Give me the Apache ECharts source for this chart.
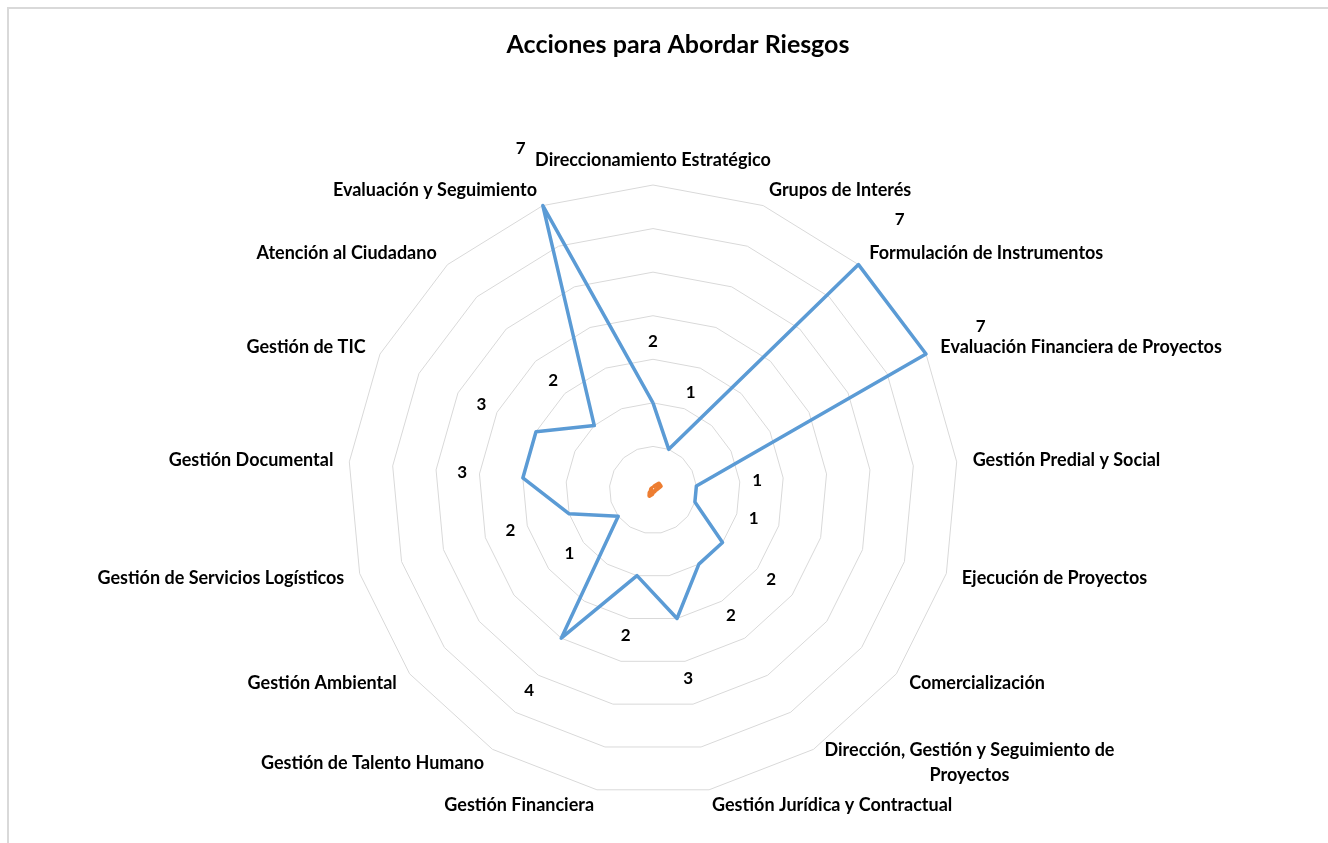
<!DOCTYPE html>
<html>
<head>
<meta charset="utf-8">
<title>Acciones para Abordar Riesgos</title>
<script src="https://cdn.jsdelivr.net/npm/echarts@6/dist/echarts.min.js"></script>
<style>
  html, body { margin: 0; padding: 0; background: #fff; }
  #frame {
    position: absolute; left: 7px; top: 7px; width: 1340px; height: 860px;
    border-top: 2px solid #d9d9d9; border-left: 2px solid #d9d9d9;
  }
  #chart { position: absolute; left: 0; top: 0; width: 1328px; height: 843px; }
</style>
</head>
<body>
<div id="frame"></div>
<div id="chart"></div>
<script>
// categorias en sentido horario, empezando arriba
const categorias = [
  'Direccionamiento Estratégico',
  'Grupos de Interés',
  'Formulación de Instrumentos',
  'Evaluación Financiera de Proyectos',
  'Gestión Predial y Social',
  'Ejecución de Proyectos',
  'Comercialización',
  'Dirección, Gestión y Seguimiento de\nProyectos',
  'Gestión Jurídica y Contractual',
  'Gestión Financiera',
  'Gestión de Talento Humano',
  'Gestión Ambiental',
  'Gestión de Servicios Logísticos',
  'Gestión Documental',
  'Gestión de TIC',
  'Atención al Ciudadano',
  'Evaluación y Seguimiento'
]
const acciones = [2, 1, 7, 7, 1, 1, 2, 2, 3, 2, 4, 1, 2, 3, 3, 2, 7]
const serie2 = [0.05, 0.1, 0.2, 0.2, 0.08, 0.05, 0.05, 0.05, 0.05, 0.1, 0.16, 0.1, 0.05, 0.05, 0.05, 0.05, 0.05]
const escalaMax = 7

// desplazamiento radial de las etiquetas (en unidades del eje)
const LABEL_SHIFT = 1.4

// echarts recorre los indicadores en sentido antihorario -> invertir
const orden = [0].concat(categorias.map((_, i) => i).slice(1).reverse())
const reordenar = arr => orden.map(i => arr[i])

const font = 'Lato, "Open Sans", sans-serif'

const chart = echarts.init(document.getElementById('chart'))

const option = {
  title: {
    text: 'Acciones para Abordar Riesgos',
    left: 673,
    top: 27,
    textAlign: 'center',
    textStyle: { fontFamily: font, fontSize: 25, fontWeight: 'bold', color: '#000' }
  },
  radar: {
    center: [653, 490],
    radius: 305,
    startAngle: 90,
    shape: 'polygon',
    splitNumber: 7,
    nameGap: 16,
    indicator: reordenar(categorias).map(n => ({ name: n, min: 0, max: escalaMax })),
    axisName: {
      color: '#000',
      fontFamily: font,
      fontSize: 18,
      fontWeight: 'bold',
      formatter: name => name.indexOf('\n') >= 0
        ? name.split('\n').map(l => '{c|' + l + '}').join('\n')
        : name,
      rich: {
        c: { width: 295, align: 'center', color: '#000', fontFamily: font, fontSize: 18, fontWeight: 'bold', lineHeight: 25 }
      }
    },
    axisLine: { show: false },
    axisTick: { show: false },
    axisLabel: { show: false },
    splitArea: { show: false },
    splitLine: { lineStyle: { color: '#d9d9d9', width: 1 } }
  },
  series: [
    {
      type: 'radar',
      silent: true,
      symbol: 'none',
      lineStyle: { color: '#ed7d31', width: 4 },
      data: [{ value: reordenar(serie2) }]
    },
    {
      type: 'radar',
      silent: true,
      symbol: 'none',
      lineStyle: { color: '#5b9bd5', width: 3.5 },
      data: [{ value: reordenar(acciones) }]
    },
    {
      // serie auxiliar invisible solo para colocar las etiquetas
      type: 'radar',
      silent: true,
      symbol: 'circle',
      symbolSize: 1,
      itemStyle: { color: 'rgba(0,0,0,0)' },
      lineStyle: { width: 0, opacity: 0 },
      label: {
        show: true,
        position: 'inside',
        color: '#000',
        fontFamily: font,
        fontSize: 17,
        fontWeight: 'bold',
        formatter: p => Math.round(p.value - LABEL_SHIFT)
      },
      data: [{ value: reordenar(acciones.map(v => v + LABEL_SHIFT)) }]
    }
  ]
}

chart.setOption(option)
</script>
</body>
</html>
